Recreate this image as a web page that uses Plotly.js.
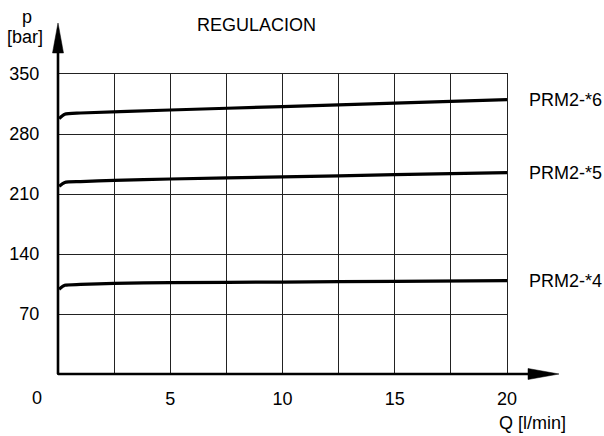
<!DOCTYPE html>
<html>
<head>
<meta charset="utf-8">
<script src="https://cdn.plot.ly/plotly-3.0.1.min.js"></script>
<style>html,body{margin:0;padding:0;background:#fff;}#chart{width:604px;height:436px;}</style>
</head>
<body>
<div id="chart"></div>
<script>
// ---- data ----
var seriesNames = ['PRM2-*6', 'PRM2-*5', 'PRM2-*4'];
var q6 = [0.05, 0.3, 1, 5, 10, 15, 20];
var p6 = [298, 303, 304.5, 308, 312, 316, 320];
var q5 = [0.05, 0.3, 1, 2.5, 5, 10, 15, 20];
var p5 = [219, 223.5, 224.5, 226, 227.5, 230, 232.5, 235];
var q4 = [0.05, 0.3, 1, 2.5, 5, 10, 15, 20];
var p4 = [99, 103.5, 104.5, 105.8, 106.5, 107.3, 108.1, 109];
var xGridVals = [2.5, 5, 7.5, 10, 12.5, 15, 17.5, 20];
var xTickText = ['', '5', '', '10', '', '15', '', '20'];
var yTickVals = [70, 140, 210, 280, 350];
var chartTitle = 'REGULACION';
var xTitle = 'Q [l/min]';
var yTitle1 = 'p';
var yTitle2 = '[bar]';

// ---- layout geometry ----
var W = 604, H = 436;
var M = {l: 58, r: 97, t: 74, b: 62};
var PW = W - M.l - M.r, PH = H - M.t - M.b;
function px(x) { return (x - M.l) / PW; }
function py(y) { return (H - M.b - y) / PH; }
var FONT = 'Liberation Sans, Arial, sans-serif';
var FS = 18;

function mk(x, y) {
  return {x: x, y: y, type: 'scatter', mode: 'lines', hoverinfo: 'skip',
    line: {color: '#000', width: 3.2, shape: 'spline', smoothing: 0.6}, showlegend: false, cliponaxis: false};
}
var data = [mk(q6, p6), mk(q5, p5), mk(q4, p4)];

var ends = [[q6, p6], [q5, p5], [q4, p4]];
var annotations = ends.map(function (s, i) {
  return {x: s[0][s[0].length - 1], y: s[1][s[1].length - 1], xref: 'x', yref: 'y',
    text: seriesNames[i], showarrow: false, xanchor: 'left', yanchor: 'middle', xshift: 20,
    font: {family: FONT, size: FS, color: '#000'}};
});
function txt(t, x, y, xa) {
  return {text: t, x: px(x), y: py(y), xref: 'paper', yref: 'paper', showarrow: false,
    xanchor: xa || 'center', yanchor: 'middle', font: {family: FONT, size: FS, color: '#000'}};
}
annotations.push(txt(chartTitle, 256, 25));
annotations.push(txt(yTitle1, 27, 17));
annotations.push(txt(yTitle2, 25, 37));
annotations.push(txt(xTitle, 532, 423));
annotations.push(txt('0', 37, 398));

var x0 = M.l, yB = H - M.b;
var shapes = [
  // thick left axis with arrow
  {type: 'line', xref: 'paper', yref: 'paper', x0: 0, y0: 0, x1: 0, y1: py(45), line: {color: '#000', width: 2.6}},
  {type: 'path', xref: 'paper', yref: 'paper',
    path: 'M ' + px(x0) + ' ' + py(23) + ' L ' + px(x0 - 5.5) + ' ' + py(53) + ' L ' + px(x0 + 5.5) + ' ' + py(53) + ' Z',
    fillcolor: '#000', line: {color: '#000', width: 0.5}},
  // thick bottom axis with arrow
  {type: 'line', xref: 'paper', yref: 'paper', x0: 0, y0: 0, x1: px(540), y1: 0, line: {color: '#000', width: 2.6}},
  {type: 'path', xref: 'paper', yref: 'paper',
    path: 'M ' + px(559) + ' ' + py(yB) + ' L ' + px(528) + ' ' + py(yB - 5.5) + ' L ' + px(528) + ' ' + py(yB + 5.5) + ' Z',
    fillcolor: '#000', line: {color: '#000', width: 0.5}}
];

var layout = {
  width: W, height: H, margin: M, paper_bgcolor: '#fff', plot_bgcolor: '#fff',
  font: {family: FONT, size: FS, color: '#000'},
  xaxis: {range: [0, 20], tickmode: 'array', tickvals: xGridVals, ticktext: xTickText,
    showgrid: true, gridcolor: '#222', gridwidth: 1, zeroline: false,
    showline: true, mirror: true, linecolor: '#222', linewidth: 1, ticks: '', ticklabelstandoff: 8,
    tickfont: {family: FONT, size: FS, color: '#000'}, fixedrange: true},
  yaxis: {range: [0, 350], tickmode: 'array', tickvals: yTickVals,
    showgrid: true, gridcolor: '#222', gridwidth: 1, zeroline: false,
    showline: true, mirror: true, linecolor: '#222', linewidth: 1, ticks: '', ticklabelstandoff: 14,
    tickfont: {family: FONT, size: FS, color: '#000'}, fixedrange: true},
  annotations: annotations, shapes: shapes, showlegend: false
};
Plotly.newPlot('chart', data, layout, {displayModeBar: false, staticPlot: true});
</script>
</body>
</html>
